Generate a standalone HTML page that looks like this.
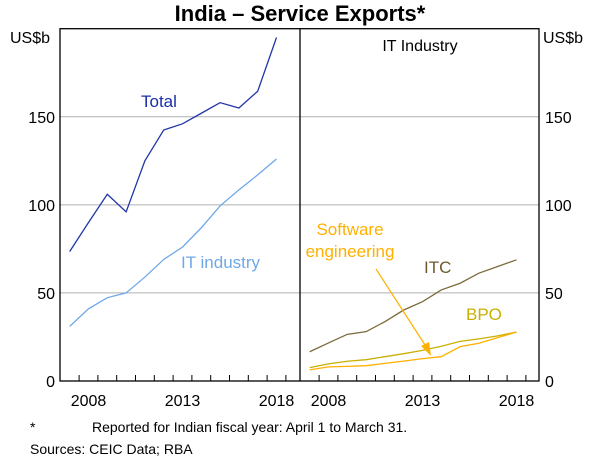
<!DOCTYPE html>
<html><head><meta charset="utf-8"><style>
body{margin:0;background:#fff;}
svg text{font-family:"Liberation Sans",Arial,sans-serif;}
</style></head><body>
<svg id="chart" width="600" height="462" viewBox="0 0 600 462" xmlns="http://www.w3.org/2000/svg">
<text x="300" y="21" text-anchor="middle" font-size="22" font-weight="bold">India – Service Exports*</text>
<text x="10" y="43" font-size="16">US$b</text>
<text x="543" y="43" font-size="16">US$b</text>
<text x="420" y="51" text-anchor="middle" font-size="16">IT Industry</text>
<g id="grid"></g>
<g id="series"></g>
<g id="axes"></g>
<text x="141" y="107" font-size="17" fill="#1a2fa8">Total</text>
<text x="181" y="268" font-size="17" fill="#6fa8e8">IT industry</text>
<text x="424" y="273" font-size="17" fill="#6e5a2e">ITC</text>
<text x="466" y="320" font-size="17" fill="#c9b000">BPO</text>
<text x="350" y="235" text-anchor="middle" font-size="17" fill="#ffb000">Software</text>
<text x="350" y="257" text-anchor="middle" font-size="17" fill="#ffb000">engineering</text>
<line x1="376" y1="269" x2="427" y2="348" stroke="#ffb000" stroke-width="1.2"/>
<polygon points="431,356 421,346 429,342" fill="#ffb000"/>
<text x="30" y="432" font-size="14">*</text>
<text x="92" y="432" font-size="14">Reported for Indian fiscal year: April 1 to March 31.</text>
<text x="30" y="454" font-size="14">Sources:   CEIC Data; RBA</text>
</svg>
<script>
const years=[2007,2008,2009,2010,2011,2012,2013,2014,2015,2016,2017,2018];
const totalVals=[73.5,90,106,96,125,142.5,146,152,158,155,164.5,195];
const itVals=[31,41,47.3,50,59,69,76,87,99.4,108.5,117,126];
const itcVals=[16.6,21.6,26.5,28,33.7,40.3,45,51.7,55.5,61.2,65,68.8];
const bpoVals=[7.6,9.7,11.2,12.1,13.8,15.5,17.4,19.7,22.5,23.9,25.6,27.8];
const softVals=[6.3,8,8.3,8.7,10,11.3,12.7,13.8,19.5,21.4,24.6,27.8];
const yTicks=[0,50,100,150];
const xLabels=[2008,2013,2018];
const NS="http://www.w3.org/2000/svg";
const plotTop=28.7,plotBottom=381,ppu=(plotBottom-plotTop)/200;
function y(v){return plotBottom-v*ppu;}
function xL(yr){return 69.7+(yr-2007)*18.8;}
function xR(yr){return 309.7+(yr-2007)*18.8;}
function mk(tag,attrs,parent){const e=document.createElementNS(NS,tag);for(const k in attrs)e.setAttribute(k,attrs[k]);document.getElementById(parent).appendChild(e);return e;}
yTicks.forEach(t=>{if(t>0){
 const g=mk('line',{x1:60,x2:539,y1:y(t),y2:y(t),stroke:'#b0b0b0','stroke-width':1},'grid');
 
 }
 const l=mk('text',{x:55,y:y(t)+6,'text-anchor':'end','font-size':16},'axes');l.textContent=t;
 
 
 const r=mk('text',{x:545,y:y(t)+6,'font-size':16},'axes');r.textContent=t;
 
 
});
const fr=mk('rect',{x:60,y:plotTop,width:479,height:plotBottom-plotTop,fill:'none',stroke:'#000','stroke-width':1.3},'axes');


const dv=mk('line',{x1:300,x2:300,y1:plotTop,y2:plotBottom,stroke:'#000','stroke-width':1.3},'axes');


for(let i=0;i<years.length;i++){
 [xL,xR].forEach(f=>{const xx=f(years[i])+9.4;
  const t=mk('line',{x1:xx,x2:xx,y1:plotBottom,y2:plotBottom-6,stroke:'#000','stroke-width':1},'axes');
  
  });
}
xLabels.forEach(yr=>{[xL,xR].forEach(f=>{
 const t=mk('text',{x:f(yr),y:406,'text-anchor':'middle','font-size':16},'axes');t.textContent=yr;
 
 });});
function line(vals,f,color,w,name){
 const pts=vals.map((v,i)=>f(years[i])+','+y(v)).join(' ');
 const p=mk('polyline',{points:pts,fill:'none',stroke:color,'stroke-width':w},'series');
 
 
}
line(totalVals,xL,'#2236a8',1.3,'total-line');
line(itVals,xL,'#6fa8e8',1.3,'it-industry-line');
line(itcVals,xR,'#7b6a3a',1.3,'itc-line');
line(bpoVals,xR,'#c9b000',1.3,'bpo-line');
line(softVals,xR,'#ffb000',1.3,'software-line');
</script>
</body></html>
